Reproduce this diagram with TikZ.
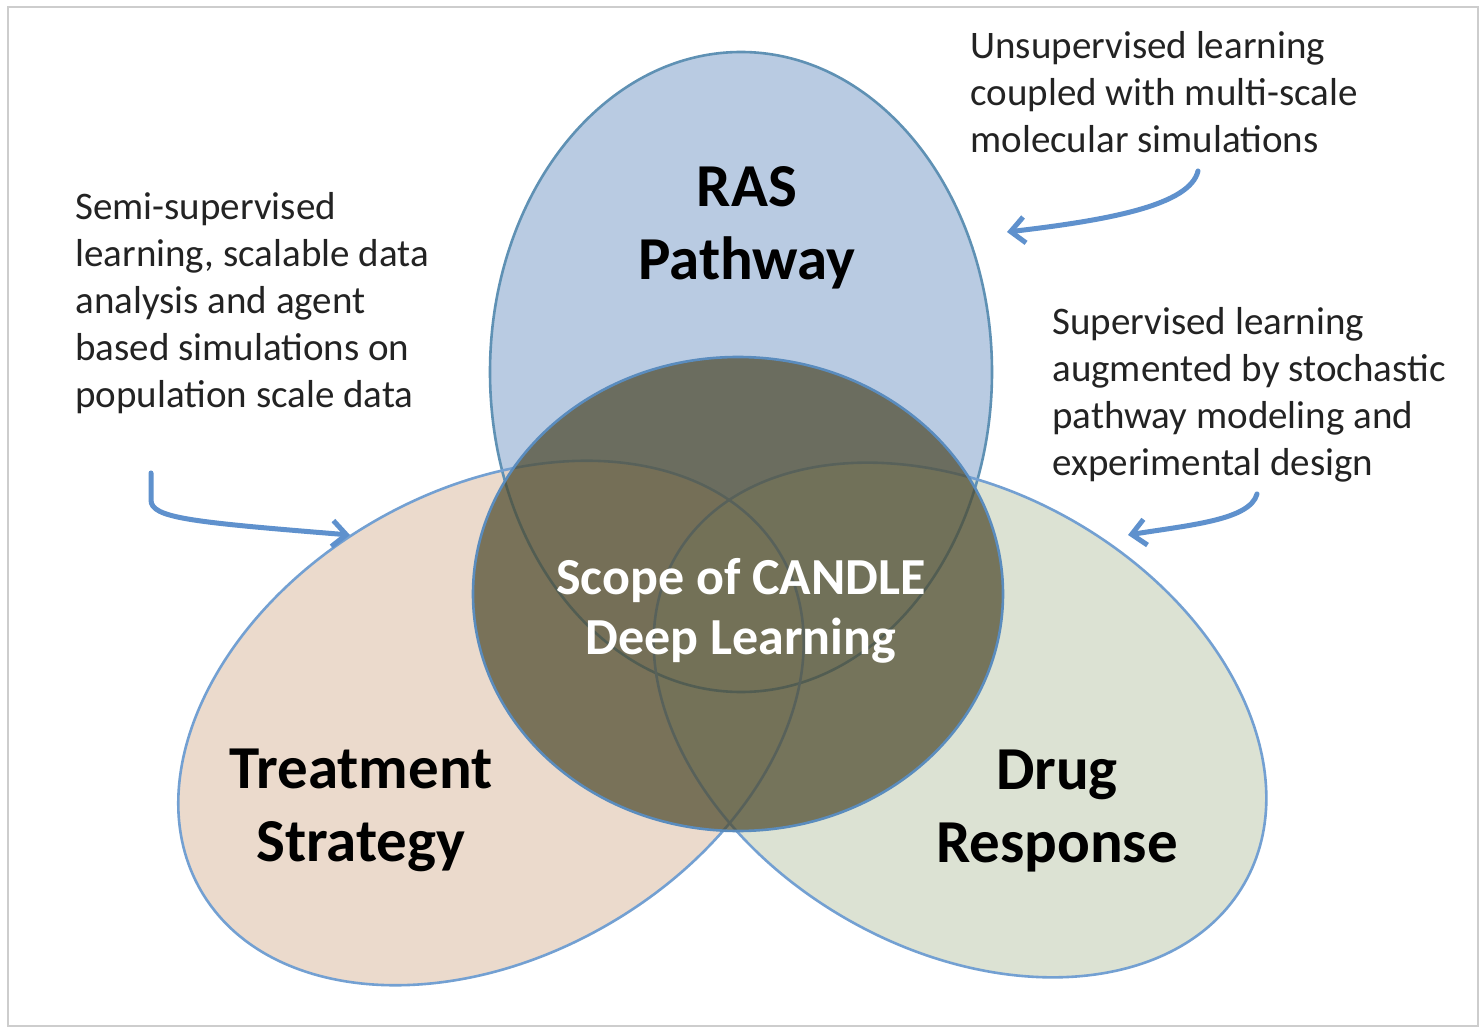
\documentclass[tikz,border=0pt]{standalone}
\usepackage{fontspec}
\setmainfont{Carlito}
\usetikzlibrary{arrows.meta}
\definecolor{rasfill}{RGB}{185,203,226}
\definecolor{tanfill}{RGB}{230,209,192}
\definecolor{grnfill}{RGB}{212,219,200}
\definecolor{corefill}{RGB}{78,74,45}
\definecolor{rasline}{RGB}{95,145,180}
\definecolor{setline}{RGB}{115,160,210}
\definecolor{coreline}{RGB}{90,140,190}
\definecolor{arrowblue}{RGB}{95,145,205}
\definecolor{frame}{RGB}{205,205,205}
\definecolor{notetext}{RGB}{35,35,35}
\tikzset{
  note/.style={align=left, anchor=north west, inner sep=0pt, text=notetext,
    font=\fontsize{19.5pt}{23.5pt}\selectfont},
  biglabel/.style={align=center, inner sep=0pt, text=black,
    font=\bfseries\fontsize{30.5pt}{36.5pt}\selectfont},
  corelabel/.style={align=center, inner sep=0pt, text=white,
    font=\bfseries\fontsize{26pt}{30pt}\selectfont},
  outline/.style={line width=1.3pt},
  pointer/.style={draw=arrowblue, line width=2.5pt, line cap=round,
    -{Straight Barb[length=7pt,width=13pt,line width=2.5pt]}}
}
\begin{document}
\begin{tikzpicture}[x=0.5pt,y=-0.5pt]
\useasboundingbox (0,0) rectangle (1480,1027);
\fill[white] (0,0) rectangle (1480,1027);
\draw[frame, line width=1pt] (8,7) rectangle (1478,1026);

% fills
\fill[rasfill] (741,372) ellipse [x radius=251, y radius=320];
\fill[tanfill, fill opacity=0.8, rotate around={30:(491,723)}] (491,723) ellipse [x radius=335, y radius=233];
\fill[grnfill, fill opacity=0.8, rotate around={-30:(960,720)}] (960,720) ellipse [x radius=328, y radius=229];
% outlines
\draw[rasline, outline] (741,372) ellipse [x radius=251, y radius=320];
\draw[setline, outline, rotate around={30:(491,723)}] (491,723) ellipse [x radius=335, y radius=233];
\draw[setline, outline, rotate around={-30:(960,720)}] (960,720) ellipse [x radius=328, y radius=229];
% core
\fill[corefill, fill opacity=0.72] (738,594) ellipse [x radius=265, y radius=237];
\draw[coreline, outline] (738,594) ellipse [x radius=265, y radius=237];

% labels
\node[biglabel] (ras) at (747,228) {RAS\\Pathway};
\node[biglabel] (treat) at (361,810) {Treatment\\Strategy};
\node[biglabel] (drug) at (1057,811) {Drug\\Response};
\node[corelabel] (core) at (741,611) {Scope of CANDLE\\Deep Learning};

% notes
\node[note] (unsup) at (970,31) {Unsupervised learning\\coupled with multi-scale\\molecular simulations};
\node[note] (semi) at (75,192) {Semi-supervised\\learning, scalable data\\analysis and agent\\based simulations on\\population scale data};
\node[note] (sup) at (1052,307) {Supervised learning\\augmented by stochastic\\pathway modeling and\\experimental design};

% arrows
\coordinate (semiStart) at (151,473);
\coordinate (semiEnd) at (350,535);
\coordinate (unsupStart) at (1198,171);
\coordinate (unsupEnd) at (1007,232);
\coordinate (supStart) at (1257,494);
\coordinate (supEnd) at (1128,535);
\draw[pointer] (semiStart) -- (151,500) .. controls (151,518) and (190,522) .. (semiEnd);
\draw[pointer] (unsupStart) .. controls (1190,205) and (1110,220) .. (unsupEnd);
\draw[pointer] (supStart) .. controls (1250,520) and (1190,525) .. (supEnd);
\end{tikzpicture}
\end{document}
